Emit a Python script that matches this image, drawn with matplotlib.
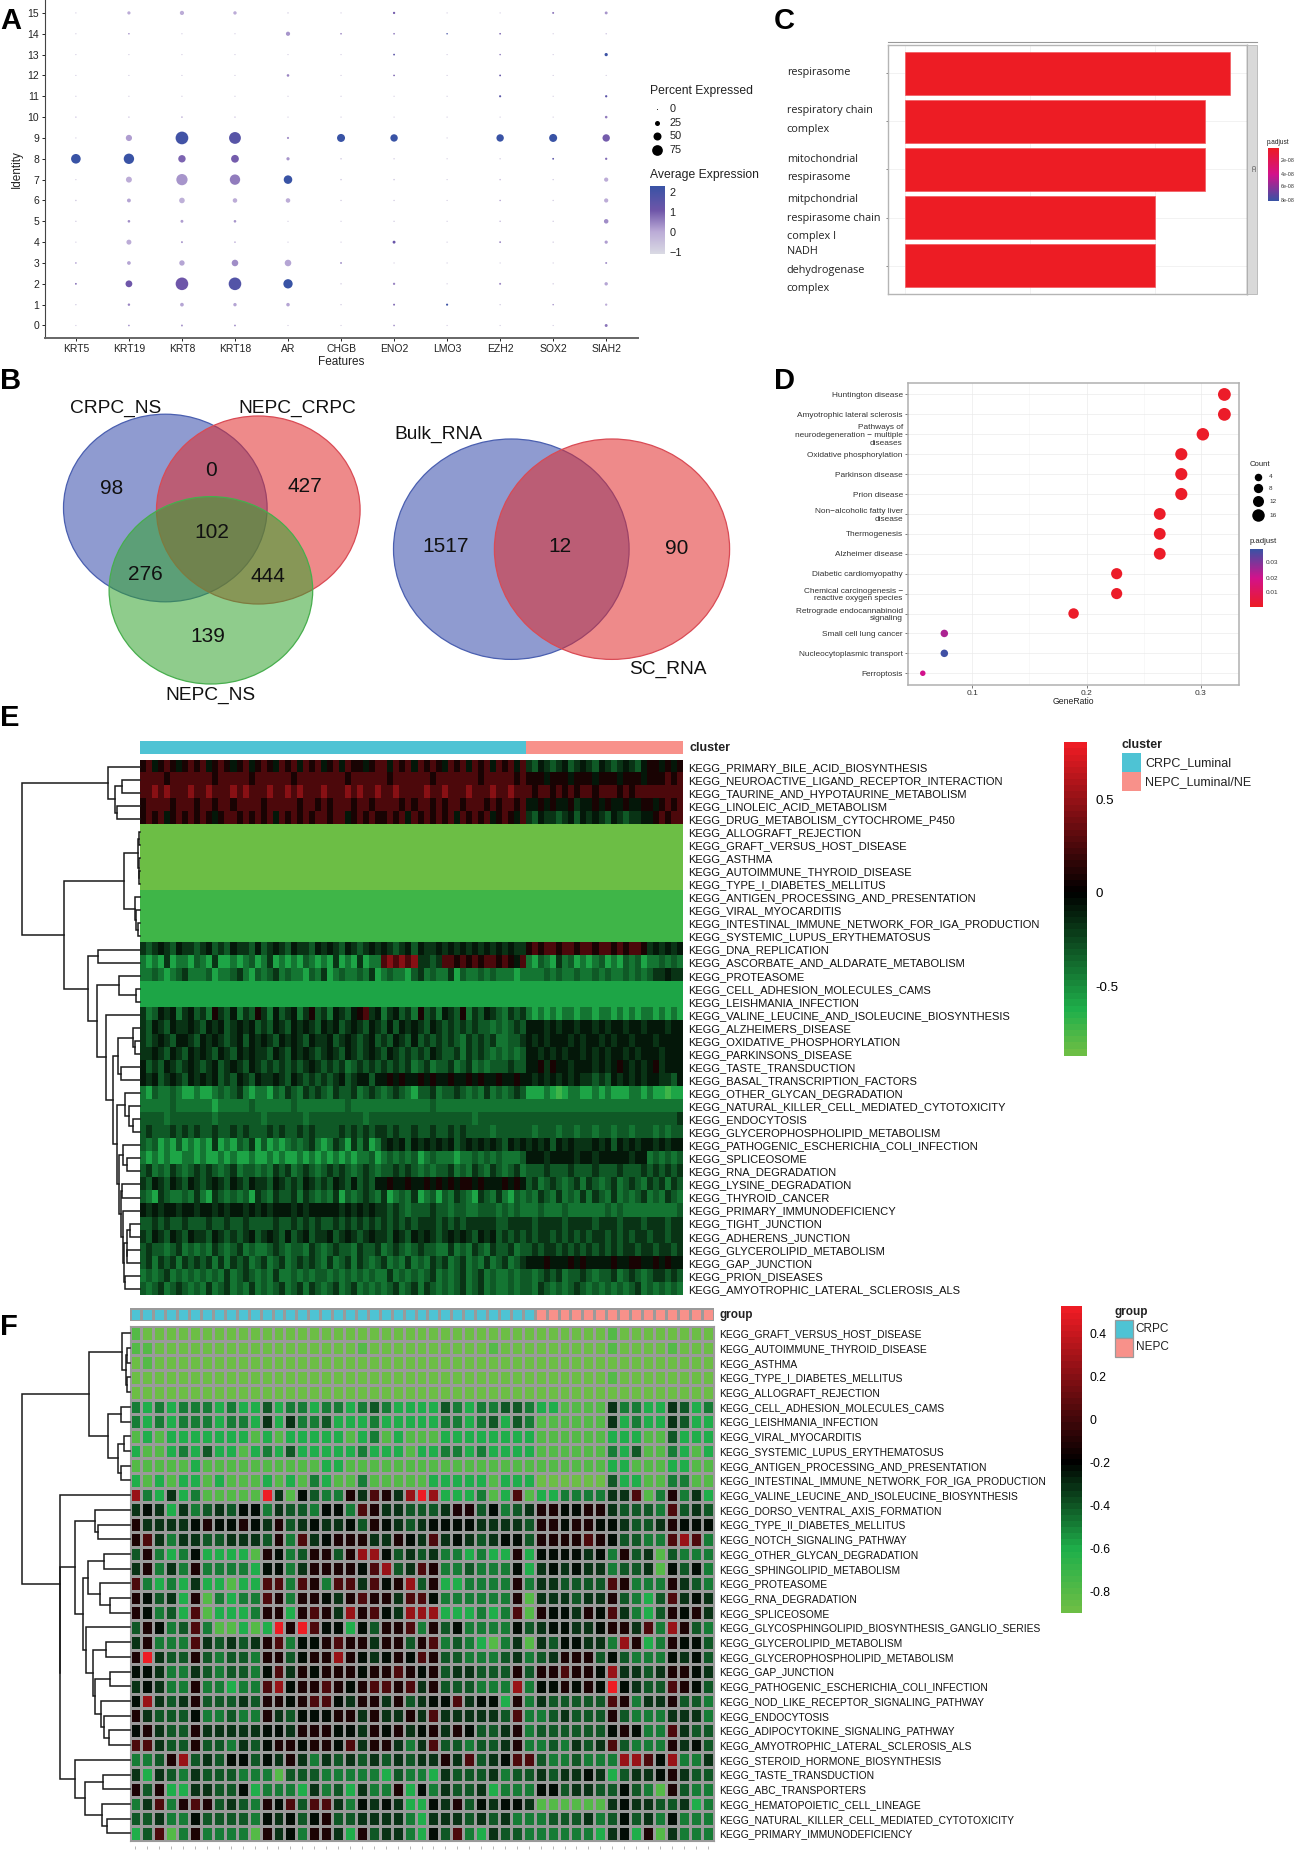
import matplotlib
matplotlib.use('Agg')
import matplotlib.pyplot as plt
from matplotlib.colors import LinearSegmentedColormap, ListedColormap
from matplotlib.patches import Ellipse, Rectangle
import numpy as np

plt.rcParams['font.family'] = ['Liberation Sans', 'DejaVu Sans']

W, H = 1296, 1850

# panel A
FEATURES = ['KRT5', 'KRT19', 'KRT8', 'KRT18', 'AR', 'CHGB', 'ENO2', 'LMO3', 'EZH2', 'SOX2', 'SIAH2']
IDENTITIES = list(range(16))
PCT = [
    [1, 4, 6, 5, 1, 1, 4, 1, 1, 1, 12],
    [2, 9, 17, 15, 16, 2, 6, 7, 2, 3, 8],
    [5, 40, 92, 92, 62, 2, 8, 1, 6, 2, 15],
    [4, 17, 28, 38, 38, 4, 1, 1, 1, 1, 6],
    [1, 25, 6, 3, 1, 1, 12, 1, 5, 2, 14],
    [2, 10, 12, 10, 1, 1, 2, 1, 3, 2, 22],
    [3, 18, 30, 22, 22, 2, 2, 1, 3, 2, 20],
    [1, 33, 80, 72, 55, 3, 3, 1, 3, 2, 20],
    [65, 72, 45, 48, 14, 3, 2, 1, 2, 5, 8],
    [1, 35, 93, 85, 7, 50, 45, 1, 45, 50, 45],
    [2, 2, 4, 2, 1, 1, 1, 1, 1, 1, 10],
    [1, 1, 1, 1, 1, 1, 1, 1, 7, 1, 8],
    [1, 1, 1, 1, 10, 1, 4, 1, 5, 1, 1],
    [1, 1, 1, 1, 1, 1, 5, 1, 3, 1, 14],
    [1, 3, 1, 1, 20, 4, 4, 3, 4, 1, 2],
    [1, 14, 20, 15, 2, 1, 8, 1, 1, 6, 12],
]
AVG = [
    [-.6, .4, .3, .4, -.6, -.6, .4, -.6, -.6, -.6, .7],
    [-.6, .5, .1, .1, .1, -.6, .8, 2.2, -.6, .4, 0],
    [.8, 1.1, 1.1, 1.7, 2.3, -.6, .5, -.6, .5, -.6, .1],
    [.2, .1, .1, .4, .1, .8, -.6, -.6, -.6, -.6, .4],
    [-.6, 0, .3, .2, -.6, -.6, 1.2, -.6, .5, -.6, .2],
    [-.6, .4, .2, .3, -.6, -.6, -.6, -.6, -.3, -.6, .4],
    [-.6, .1, -.1, 0, 0, -.6, -.6, -.6, .2, -.6, 0],
    [-.6, 0, .3, .6, 2.3, -.6, -.6, -.6, -.3, -.6, 0],
    [2.3, 2.3, .9, 1.0, .3, -.6, -.6, -.6, -.6, 1.5, .8],
    [-.6, .2, 2.1, 1.6, .4, 2.3, 2.3, -.6, 2.3, 2.3, 1.0],
    [-.3, -.3, -.1, -.3, -.6, -.6, -.6, -.6, -.6, -.6, .6],
    [-.6, -.6, -.6, -.6, -.6, -.6, -.6, -.6, 1.6, -.6, 1.5],
    [-.6, -.6, -.6, -.6, .5, -.6, 1, -.6, 1.3, -.6, -.6],
    [-.6, -.6, -.6, -.6, -.6, -.6, 1.5, -.6, .8, -.6, 2.2],
    [-.6, .5, -.6, -.6, .3, .5, .7, 2, 1, -.6, -.3],
    [-.6, 0, 0, 0, -.6, -.6, 1, -.6, -.6, .7, .3],
]

# panel C
CC_TERMS = ['respirasome', 'respiratory chain\ncomplex', 'mitochondrial\nrespirasome',
            'mitpchondrial\nrespirasome chain\ncomplex I', 'NADH\ndehydrogenase\ncomplex']
CC_COUNTS = [13, 12, 12, 10, 10]
CC_TICKS = ['2e-08', '4e-08', '6e-08', '8e-08']

# panel D
KEGG_TERMS = ['Huntington disease', 'Amyotrophic lateral sclerosis',
              'Pathways of\nneurodegeneration \u2212 multiple\ndiseases',
              'Oxidative phosphorylation', 'Parkinson disease', 'Prion disease',
              'Non\u2212alcoholic fatty liver\ndisease', 'Thermogenesis', 'Alzheimer disease',
              'Diabetic cardiomyopathy', 'Chemical carcinogenesis \u2212\nreactive oxygen species',
              'Retrograde endocannabinoid\nsignaling', 'Small cell lung cancer',
              'Nucleocytoplasmic transport', 'Ferroptosis']
GENE_COUNT = [17, 17, 16, 15, 15, 15, 14, 14, 14, 12, 12, 10, 4, 4, 3]
GENE_TOTAL = 53
PADJ = [.001, .001, .001, .001, .001, .001, .001, .001, .001, .001, .001, .001, .025, .039, .02]

# panel B
VENN3 = {'98': (112, 488), '0': (211, 471), '427': (305, 487), '102': (212, 533),
         '276': (145, 575), '444': (268, 577), '139': (207.5, 637)}
VENN2 = {'1517': (446, 547), '12': (560, 547), '90': (677, 548)}

# panel E, one digit per column block, see E_LEVELS
E_LEVELS = [-.86, -.72, -.6, -.43, -.31, -.2, -.08, .1, .24, .45]
E_LABELS = ['PRIMARY_BILE_ACID_BIOSYNTHESIS', 'NEUROACTIVE_LIGAND_RECEPTOR_INTERACTION',
            'TAURINE_AND_HYPOTAURINE_METABOLISM', 'LINOLEIC_ACID_METABOLISM',
            'DRUG_METABOLISM_CYTOCHROME_P450', 'ALLOGRAFT_REJECTION', 'GRAFT_VERSUS_HOST_DISEASE',
            'ASTHMA', 'AUTOIMMUNE_THYROID_DISEASE', 'TYPE_I_DIABETES_MELLITUS',
            'ANTIGEN_PROCESSING_AND_PRESENTATION', 'VIRAL_MYOCARDITIS',
            'INTESTINAL_IMMUNE_NETWORK_FOR_IGA_PRODUCTION', 'SYSTEMIC_LUPUS_ERYTHEMATOSUS',
            'DNA_REPLICATION', 'ASCORBATE_AND_ALDARATE_METABOLISM', 'PROTEASOME',
            'CELL_ADHESION_MOLECULES_CAMS', 'LEISHMANIA_INFECTION',
            'VALINE_LEUCINE_AND_ISOLEUCINE_BIOSYNTHESIS', 'ALZHEIMERS_DISEASE',
            'OXIDATIVE_PHOSPHORYLATION', 'PARKINSONS_DISEASE', 'TASTE_TRANSDUCTION',
            'BASAL_TRANSCRIPTION_FACTORS', 'OTHER_GLYCAN_DEGRADATION',
            'NATURAL_KILLER_CELL_MEDIATED_CYTOTOXICITY', 'ENDOCYTOSIS',
            'GLYCEROPHOSPHOLIPID_METABOLISM', 'PATHOGENIC_ESCHERICHIA_COLI_INFECTION', 'SPLICEOSOME',
            'RNA_DEGRADATION', 'LYSINE_DEGRADATION', 'THYROID_CANCER', 'PRIMARY_IMMUNODEFICIENCY',
            'TIGHT_JUNCTION', 'ADHERENS_JUNCTION', 'GLYCEROLIPID_METABOLISM', 'GAP_JUNCTION',
            'PRION_DISEASES', 'AMYOTROPHIC_LATERAL_SCLEROSIS_ALS']
E_ROWS = [
    "7867876787 8678767867 8768786878 6786877678 8687868787 6878687868 7868 5465456456 5465456546 776767",
    "8888788888 8878888878 8888878888 8888788888 8788888878 8888887888 8878 7776777677 7677767776 777878",
    "8898988898 8988898988 8988989888 9888989889 8898888988 9888988898 8988 8788787878 8788878788 888888",
    "7888878887 8878878888 7888887887 8788878878 8887878878 7887888787 8878 6676766756 6767667667 767878",
    "7878678787 8767887878 7868787878 8788678787 7878687878 7868787867 8768 5465545646 5654654556 678788",
    "0000000000 0000000000 0000000000 0000000000 0000000000 0000000000 0000 0000000000 0000000000 000000",
    "0000000000 0000000000 0000000000 0000000000 0000000000 0000000000 0000 0000000000 0000000000 000000",
    "0000000000 0000000000 0000000000 0000000000 0000000000 0000000000 0000 0000000000 0000000000 000000",
    "0000000000 0000000000 0000000000 0000000000 0000000000 0000000000 0000 0000000000 0000000000 000000",
    "0000000000 0000000000 0000000000 0000000000 0000000000 0000000000 0000 0000000000 0000000000 000000",
    "1111111111 1111111111 1111111111 1111111111 1111111111 1111111111 1111 1111111111 1111111111 111111",
    "1111111111 1111111111 1111111111 1111111111 1111111111 1111111111 1111 1111111111 1111111111 111111",
    "1111111111 1111111111 1111111111 1111111111 1111111111 1111111111 1111 1111111111 1111111111 111111",
    "1111111111 1111111111 1111111111 1111111111 1111111111 1111111111 1111 1111111111 1111111111 111111",
    "5456546554 5645465546 4565465546 5654654565 6545646556 5656565656 5655 7878878878 8788787887 565656",
    "3232523324 3252232342 3523232432 3252325233 8989895545 8878787887 8768 3243253423 2342324342 334343",
    "3343234533 3423345324 3453433243 5234334352 3433245343 3524334343 3323 3334343343 3434334343 455655",
    "2222222222 2222222222 2222222222 2222222222 2222222222 2222222222 2222 2222222222 2222222222 222222",
    "2222222222 2222222222 2222222222 2222222222 2222222222 2222222222 2222 2222222222 2222222222 222222",
    "5346563564 5375463547 5364563574 5365467856 3564537453 6547354654 3545 3232323323 3233232323 323232",
    "5465465565 4656456564 5465465654 6564565465 4646565465 4545454434 3454 6665656656 6565665665 666566",
    "5456546654 6565456465 6546565465 5645654564 5465464545 4543545453 3445 6565666565 6656566566 656666",
    "5565465465 6546546565 5465465654 5654654565 4654545465 4453545434 3434 6656565665 6565665656 665666",
    "6454654565 4564565465 4545454565 4545345454 5454534534 4534534344 4544 6675766566 6565676565 675666",
    "6564565465 6564546546 5565465454 5456456646 6767667676 6766767667 6676 6565656565 5454656565 665546",
    "3243343223 2234345323 3243543545 4354453454 3454324453 4454343534 3454 2223212332 2323222332 322122",
    "3333343333 3323333343 3333343333 3333433333 3333333343 3333333333 3333 3333333333 3333333333 333333",
    "4444344444 4434444444 3444444344 4444444344 4444444444 4444434444 4444 4444444444 4444444444 444445",
    "4544454545 4454454544 4545445454 4445454545 5454454454 4545444434 4444 4344434434 4344344344 434344",
    "4342324232 3252324352 4232343453 2354253523 5656465656 5645656565 4656 5656465655 5656465656 656566",
    "3232322332 3223232232 2323223232 3232323342 3434342343 3323343434 3334 6665666656 6566666566 343434",
    "4534354345 4543453443 4354534543 4545434543 4454543434 4534354354 3453 4445444544 4544454445 454545",
    "5465465465 4565465465 5465454654 5465464546 6766766767 6767767666 7676 4534543453 5434534543 545354",
    "4325433435 3254343425 4354453543 4352434543 5234352342 4354325435 3243 4354353435 3543534345 343543",
    "6565665665 6656566565 6566656566 6665656565 5454344454 4344334443 4343 3343334333 3334343333 333334",
    "4454544544 4544544544 4454454545 4454545454 5454545554 5454555554 4555 5455554555 5455545554 555455",
    "5465465465 5465454564 5654645645 5645654565 5465465654 5656546564 5454 5455454545 4554545455 455455",
    "4544345343 4354345343 3454344354 3454435445 3454345443 3534354354 4534 4545545454 5454545545 545545",
    "4535453545 4535354534 5345345454 3534535434 5343534354 5345343534 5345 6667666767 6666766776 676766",
    "3434534343 4343534543 4353343434 4343434343 3534343453 4345345343 3434 4345453445 4344534543 455454",
    "4345345434 3534534353 4345345354 3453453434 3453453543 4345345343 3434 4354343454 3434343453 434343",
]
E_GROUP_SIZES = [64, 26]
E_TREE = (118,
          (32, 0, (25, (18, 1, 2), (23, 3, 4))),
          (76,
           (16, (1.8, (1.2, 5, 6), (1.2, 7, (.8, 8, 9))), (5.4, 10, (4.5, 11, (2.7, 12, 13)))),
           (52.5,
            (42, 14, 15),
            (43,
             (21, 16, (4.2, 17, 18)),
             (34, 19,
              (27,
               (22, (7.3, 20, (5.5, 21, 22)), (19.5, 23, 24)),
               (23,
                (15, 25, (11.5, 26, (7.5, 27, 28))),
                (21,
                 (17.4, 29, (13, 30, 31)),
                 (19.5, (18.7, 32, 33), (17.5, 34, (16, (13.5, (10.7, 35, 36), (13, 37, 38)), (15, 39, 40))))))))))))

# panel F, one hex digit per sample, see F_LEVELS
F_LEVELS = [-.88, -.81, -.6, -.48, -.39, -.31, -.23, -.12, .03, .25, .52]
F_LABELS = ['GRAFT_VERSUS_HOST_DISEASE', 'AUTOIMMUNE_THYROID_DISEASE', 'ASTHMA', 'TYPE_I_DIABETES_MELLITUS',
            'ALLOGRAFT_REJECTION', 'CELL_ADHESION_MOLECULES_CAMS', 'LEISHMANIA_INFECTION', 'VIRAL_MYOCARDITIS',
            'SYSTEMIC_LUPUS_ERYTHEMATOSUS', 'ANTIGEN_PROCESSING_AND_PRESENTATION',
            'INTESTINAL_IMMUNE_NETWORK_FOR_IGA_PRODUCTION', 'VALINE_LEUCINE_AND_ISOLEUCINE_BIOSYNTHESIS',
            'DORSO_VENTRAL_AXIS_FORMATION', 'TYPE_II_DIABETES_MELLITUS', 'NOTCH_SIGNALING_PATHWAY',
            'OTHER_GLYCAN_DEGRADATION', 'SPHINGOLIPID_METABOLISM', 'PROTEASOME', 'RNA_DEGRADATION', 'SPLICEOSOME',
            'GLYCOSPHINGOLIPID_BIOSYNTHESIS_GANGLIO_SERIES', 'GLYCEROLIPID_METABOLISM',
            'GLYCEROPHOSPHOLIPID_METABOLISM', 'GAP_JUNCTION', 'PATHOGENIC_ESCHERICHIA_COLI_INFECTION',
            'NOD_LIKE_RECEPTOR_SIGNALING_PATHWAY', 'ENDOCYTOSIS', 'ADIPOCYTOKINE_SIGNALING_PATHWAY',
            'AMYOTROPHIC_LATERAL_SCLEROSIS_ALS', 'STEROID_HORMONE_BIOSYNTHESIS', 'TASTE_TRANSDUCTION',
            'ABC_TRANSPORTERS', 'HEMATOPOIETIC_CELL_LINEAGE', 'NATURAL_KILLER_CELL_MEDIATED_CYTOTOXICITY',
            'PRIMARY_IMMUNODEFICIENCY']
F_ROWS = [
    "1000000000 0000000000 0000000000 0000000000 100000000",
    "1100000000 0000000001 0000000000 1000000000 100001000",
    "0100000000 0000000000 0000000000 0000000000 000000000",
    "0000000000 0000000000 0000000000 0000000000 100000000",
    "0000000000 0000000000 0000000000 0000000000 000000000",
    "3232333232 2423323323 4322224323 3443221111 533225423",
    "3232333233 2525334222 3222223323 4243111111 523225422",
    "1212222222 1212222212 3121112222 2222111111 222114222",
    "2112324221 2324222223 2221223323 2222111111 324113212",
    "1111121111 1111112211 1111111111 1111111111 221112211",
    "2121221211 1212132113 1111122222 1222000000 422113311",
    "9325231111 1a51643375 8759a92223 1281223333 558137352",
    "5652534546 6354436638 7554445774 6345776677 544438454",
    "7555567667 6574565564 7654566665 5554776776 654457666",
    "7853554455 5473856777 5576585654 5664777787 644338983",
    "4732362222 1763477479 9645453323 2272666656 374514333",
    "5735373333 2663577776 8945873343 3362565655 344516463",
    "8323252212 2883873885 8679472233 3373554444 873337543",
    "7645271323 3873776578 7758863333 3371555455 743248565",
    "7634281222 3772787597 8659992223 2381766576 853247675",
    "4763483112 12a7a86626 4778374633 3364566556 775839743",
    "5733385454 5783667877 5774783432 1351546655 397237664",
    "7a54474344 3774677976 5676874433 3453457774 643336564",
    "6653354344 3685767776 7787674554 4474778776 955457765",
    "5653373323 3896778767 8878574443 3393667676 a65448764",
    "6954574445 4776788657 7574566856 6273544444 873557443",
    "7544463343 3754666775 7557585555 5483345444 743335553",
    "6754475555 5665777665 7675675764 4573444444 676338544",
    "8854474435 4677677685 7753584434 4573343545 843337564",
    "3347945466 4657535454 5454557584 5688433433 399869335",
    "5254354443 3314443333 3243325444 5344545565 245567544",
    "7472255446 2333253425 3372635445 2333664554 464317433",
    "3583787454 3768488536 5652265746 5665111111 565544523",
    "4453364444 3656467445 5553255545 4533344453 464536333",
    "2481373333 1756377527 4553264832 5443333332 562715333",
]
F_GROUP_SIZES = [34, 15]
F_TREE = (107.5,
          (41,
           (7.3, 0, (4, (3, 1, 2), (3, 3, 4))),
           (22, (9, 5, 6), (12, (6, 7, 8), (9, 9, 10)))),
          (70, 11,
           (69.5,
            (54.6,
             (35, 12, (31.7, 13, 14)),
             (47,
              (41.8, (25.7, 15, 16), (30, 17, (20, 18, 19))),
              (44, 20,
               (37,
                (24, 21, 22),
                (35, (20, 23, 24), (29, 25, (25.7, 26, (21, 27, 28))))))))
            ,
            (54.6, 29, (45, (27, 30, 31), (28, 32, (22.5, 33, 34)))))))

TEAL = '#4EC3D4'
SALMON = '#F8918A'
RED = '#ED1C24'


def px_axes(fig, x0, y0, x1, y1, **kw):
    return fig.add_axes([x0 / W, 1 - y1 / H, (x1 - x0) / W, (y1 - y0) / H], **kw)


def decode(rows, levels):
    rows = [r.replace(' ', '') for r in rows]
    assert len(set(len(r) for r in rows)) == 1, [len(r) for r in rows]
    return np.array([[levels[int(c, 16)] for c in r] for r in rows])


def draw_tree(ax, node, lw=1.1):
    if isinstance(node, int):
        return node + 0.5, 0
    h, left, right = node
    y1, h1 = draw_tree(ax, left, lw)
    y2, h2 = draw_tree(ax, right, lw)
    ax.plot([h1, h, h, h2], [y1, y1, y2, y2], color='#1a1a1a', lw=lw, clip_on=False, solid_joinstyle='miter')
    return (y1 + y2) / 2, h


def colorbar(fig, x0, y0, x1, y1, cmap, vmin, vmax, ticks, fs, pad):
    ax = px_axes(fig, x0, y0, x1, y1)
    ax.imshow(np.linspace(vmax, vmin, 256)[:, None], aspect='auto', cmap=cmap, vmin=vmin, vmax=vmax,
              extent=[0, 1, vmin, vmax], interpolation='nearest')
    ax.set_xticks([])
    ax.yaxis.tick_right()
    ax.set_yticks(ticks, [str(t) for t in ticks], fontsize=fs)
    ax.tick_params(axis='y', length=0, pad=pad)
    for s in ax.spines.values():
        s.set_visible(False)
    return ax


def panel_a(fig, ov):
    ax = px_axes(fig, 44.6, 0, 638, 338)
    cmap = LinearSegmentedColormap.from_list('dot', [(0, '#DADAE4'), (.33, '#BBABD7'), (.64, '#6F56A9'), (1, '#3953A5')])
    pct = np.array(PCT, float)
    avg = np.array(AVG, float)
    xs, ys = np.meshgrid(np.arange(len(FEATURES)), IDENTITIES)
    d = np.interp(pct, [0, 25, 50, 75, 100], [1, 5, 8, 10.7, 13.5]) * 0.72
    ax.scatter(xs.ravel(), ys.ravel(), s=(d ** 2).ravel(), c=avg.ravel(), cmap=cmap, vmin=-1.1, vmax=2.3, linewidths=0)
    ax.set_xlim(-0.59, 10.6)
    ax.set_ylim(-0.6, 15.62)
    ax.set_xticks(range(len(FEATURES)), FEATURES, fontsize=7.5, color='#222222')
    ax.set_yticks(IDENTITIES, IDENTITIES, fontsize=7.5, color='#222222')
    ax.tick_params(length=2, width=.6, pad=2)
    ax.spines[['top', 'right']].set_visible(False)
    ax.spines['left'].set_color('#444444')
    ax.spines['bottom'].set_color('#666666')
    ax.spines['bottom'].set_linewidth(1.4)
    ov.text(341, 362, 'Features', fontsize=8.5, ha='center', va='center', color='#222222')
    ov.text(17, 169, 'Identity', fontsize=8.5, ha='center', va='center', rotation=90, color='#222222')
    ov.text(650, 91, 'Percent Expressed', fontsize=8.7, va='center', color='#222222')
    for lab, yy, dd in zip([0, 25, 50, 75], [109, 123, 136, 150], [1, 5, 8, 10.7]):
        ov.plot([657], [yy], 'o', color='black', ms=dd * .72, mew=0)
        ov.text(670, yy, str(lab), fontsize=7.8, va='center', color='#222222')
    ov.text(650, 175, 'Average Expression', fontsize=8.7, va='center', color='#222222')
    cb = px_axes(fig, 650, 186, 664, 254)
    cb.imshow(np.linspace(2.3, -1.1, 256)[:, None], aspect='auto', cmap=cmap, vmin=-1.1, vmax=2.3, extent=[0, 1, -1.1, 2.3])
    cb.set_xticks([])
    cb.yaxis.tick_right()
    cb.set_yticks([2, 1, 0, -1], ['2', '1', '0', '\u22121'], fontsize=7.8, color='#222222')
    cb.tick_params(axis='y', length=0, pad=4)
    for s in cb.spines.values():
        s.set_visible(False)


def panel_b(ov):
    blue, red, green = (.2, .29, .67), (.88, .17, .17), (.2, .64, .18)
    edges = {'b': '#4A5FB0', 'r': '#D94B55', 'g': '#47AE4D'}
    for cx, cy, a, b, col, e in [(165.3, 508, 101.8, 93.8, blue, 'b'), (258.3, 510, 101.8, 94, red, 'r'),
                                 (210.9, 590.3, 101.8, 93.7, green, 'g'), (511.3, 549.2, 117.8, 110.2, blue, 'b'),
                                 (612, 549.2, 117.6, 110.2, red, 'r')]:
        ov.add_patch(Ellipse((cx, cy), 2 * a, 2 * b, fc=col + (.55,), ec='none'))
        ov.add_patch(Ellipse((cx, cy), 2 * a, 2 * b, fc='none', ec=edges[e], lw=.9))
    for txt, (x, y) in list(VENN3.items()) + list(VENN2.items()):
        ov.text(x, y, txt, fontsize=15, ha='center', va='center', color='#111111')
    for txt, x, y in [('CRPC_NS', 116, 408), ('NEPC_CRPC', 297, 408), ('NEPC_NS', 210, 695),
                      ('Bulk_RNA', 438, 434), ('SC_RNA', 668, 669)]:
        ov.text(x, y, txt, fontsize=13.8, ha='center', va='center', color='#111111')


def panel_c(fig, ov):
    ax = px_axes(fig, 888, 45, 1246.5, 294)
    ypos = np.arange(len(CC_COUNTS))
    ax.barh(ypos, CC_COUNTS, height=.9, color=RED, ec='#F25A60', lw=.5, zorder=3)
    ax.set_xlim(-.68, 13.66)
    ax.set_ylim(len(CC_COUNTS) - .41, -.59)
    ax.grid(color='#F0F0F0', lw=.6)
    ax.set_axisbelow(True)
    ax.set_xticks([0, 5, 10])
    ax.set_yticks(ypos)
    ax.tick_params(axis='x', length=0, labelbottom=False)
    ax.tick_params(axis='y', length=1.5, width=.5, color='#555555', labelleft=False)
    for s in ax.spines.values():
        s.set_color('#B5B5B5')
        s.set_linewidth(1)
    ax.spines['right'].set_color('#555555')
    for term, yy in zip(CC_TERMS, [73, 120, 168.5, 218, 270]):
        ov.text(786.7, yy, term, family='Open Sans', fontsize=7.8, va='center', color='#222222', linespacing=1.9)
    ov.add_patch(Rectangle((1246.5, 45), 10.9, 249, fc='#D9D9D9', ec='#B5B5B5', lw=.6))
    ov.plot([888, 1257.4], [41.5, 41.5], color='#999999', lw=.8)
    ov.text(1251.8, 169, 'CC', fontsize=3.6, rotation=-90, ha='center', va='center', color='#333333')
    ov.text(1267, 142, 'p.adjust', fontsize=4.7, va='center', color='#222222')
    cmap = LinearSegmentedColormap.from_list('pa', [RED, '#D3128C', '#3953A5'])
    cb = px_axes(fig, 1267.7, 148, 1278, 201)
    cb.imshow(np.linspace(0, 1, 128)[:, None], aspect='auto', cmap=cmap)
    cb.axis('off')
    for lab, yy in zip(CC_TICKS, [161, 174.7, 187, 200]):
        ov.text(1281, yy, lab, fontsize=3.9, va='center', color='#333333')


def panel_d(fig, ov):
    ax = px_axes(fig, 907.7, 382.7, 1238.6, 685)
    ypos = np.arange(len(KEGG_TERMS))
    cmap = LinearSegmentedColormap.from_list('pa', [RED, '#D3128C', '#3953A5'])
    ratio = np.array(GENE_COUNT) / GENE_TOTAL
    d = np.interp(GENE_COUNT, [3, 4, 10, 17], [5.5, 7.5, 10.5, 12.8]) * .72
    ax.scatter(ratio, ypos, s=d ** 2, c=PADJ, cmap=cmap, vmin=0, vmax=.04, linewidths=0, zorder=3)
    ax.set_xlim(.0434, .3332)
    ax.set_ylim(len(KEGG_TERMS) - .41, -.59)
    ax.set_xticks([.1, .2, .3], ['0.1', '0.2', '0.3'], fontsize=6, color='#333333')
    ax.set_xticks([.15, .25], minor=True)
    ax.set_yticks(ypos, KEGG_TERMS, fontsize=5.95, color='#333333', linespacing=1.15)
    ax.grid(color='#EBEBEB', lw=.5)
    ax.grid(which='minor', color='#F4F4F4', lw=.4)
    ax.set_axisbelow(True)
    ax.tick_params(length=2, width=.5, color='#444444', pad=1.5)
    ax.tick_params(which='minor', length=0)
    for s in ax.spines.values():
        s.set_color('#B0B0B0')
        s.set_linewidth(1.1)
    ov.text(1073.5, 701, 'GeneRatio', fontsize=6.2, ha='center', va='center', color='#222222')
    ov.text(1250, 464, 'Count', fontsize=5.6, va='center', color='#222222')
    for lab, yy, dd in zip([4, 8, 12, 16], [476.7, 488.3, 501.3, 515.3], [7.5, 9.3, 11, 12.5]):
        ov.plot([1257.8], [yy], 'o', color='black', ms=dd * .72, mew=0)
        ov.text(1269, yy, str(lab), fontsize=4.6, va='center', color='#333333')
    ov.text(1250, 541.7, 'p.adjust', fontsize=5.6, va='center', color='#222222')
    cb = px_axes(fig, 1250, 549, 1262.5, 607)
    cb.imshow(np.linspace(.04, 0, 128)[:, None], aspect='auto', cmap=cmap, vmin=0, vmax=.04)
    cb.axis('off')
    for lab, yy in zip(['0.03', '0.02', '0.01'], [563, 578, 592.7]):
        ov.text(1266, yy, lab, fontsize=4.6, va='center', color='#333333')


def panel_e(fig, ov):
    cmap = LinearSegmentedColormap.from_list('e', [(0, '#6CBE45'), (.14, '#1FB04B'), (.519, '#000000'), (1, RED)], N=50)
    vals = decode(E_ROWS, E_LEVELS)
    ax = px_axes(fig, 140.2, 760.3, 683, 1295.4)
    ax.imshow(vals, aspect='auto', cmap=cmap, vmin=-.876, vmax=.813, interpolation='nearest')
    ax.set_xticks([])
    ax.yaxis.tick_right()
    ax.set_yticks(range(len(E_LABELS)), ['KEGG_' + s for s in E_LABELS], fontsize=8.05, color='#111111')
    ax.tick_params(axis='y', length=0, pad=4)
    for t in ax.get_yticklabels():
        t.set_verticalalignment('center_baseline')
    for s in ax.spines.values():
        s.set_visible(False)
    ann = px_axes(fig, 140.2, 741.3, 683, 754)
    ann.imshow(np.repeat([0, 1], E_GROUP_SIZES)[None, :], aspect='auto', cmap=ListedColormap([TEAL, SALMON]), interpolation='nearest')
    ann.axis('off')
    dn = px_axes(fig, 22.3, 760.3, 140.2, 1295.4)
    dn.set_xlim(118, 0)
    dn.set_ylim(len(E_LABELS), 0)
    dn.axis('off')
    draw_tree(dn, E_TREE)
    ov.text(689.4, 748, 'cluster', fontsize=9, weight='bold', va='center', color='#222222')
    colorbar(fig, 1063.5, 741.7, 1086, 1056, cmap, -.876, .813, [.5, 0, -.5], 9.6, 6.5)
    ov.text(1121.6, 745, 'cluster', fontsize=9, weight='bold', va='center', color='#222222')
    for i, (col, lab) in enumerate(zip([TEAL, SALMON], ['CRPC_Luminal', 'NEPC_Luminal/NE'])):
        ov.add_patch(Rectangle((1121.6, 753 + 19 * i), 19.4, 19, fc=col, ec='none'))
        ov.text(1145, 763 + 19 * i, lab, fontsize=9, va='center', color='#222222')


def panel_f(fig, ov):
    cmap = LinearSegmentedColormap.from_list('f', [(0, '#6CBE45'), (.2, '#1FB04B'), (.49, '#000000'), (1, RED)], N=50)
    vals = decode(F_ROWS, F_LEVELS)
    ax = px_axes(fig, 129.5, 1326, 713.5, 1840.7)
    ax.pcolormesh(vals, cmap=cmap, vmin=-.9, vmax=.529, edgecolors='#9A9A9A', linewidth=.75)
    ax.set_ylim(len(F_LABELS), 0)
    ax.set_xticks([])
    ax.yaxis.tick_right()
    ax.set_yticks(np.arange(len(F_LABELS)) + .5, ['KEGG_' + s for s in F_LABELS], fontsize=7.35, color='#111111')
    ax.tick_params(axis='y', length=0, pad=4)
    for t in ax.get_yticklabels():
        t.set_verticalalignment('center_baseline')
    for s in ax.spines.values():
        s.set_color('#9A9A9A')
    ax.vlines(np.arange(vals.shape[1]) + .5, -.017, -.01, transform=ax.get_xaxis_transform(), color='#AAAAAA', lw=.6, clip_on=False)
    ann = px_axes(fig, 129.5, 1308, 713.5, 1320.7)
    ann.pcolormesh(np.repeat([0, 1], F_GROUP_SIZES)[None, :], cmap=ListedColormap([TEAL, SALMON]), edgecolors='#9A9A9A', linewidth=.75)
    ann.axis('off')
    dn = px_axes(fig, 22, 1326, 129.5, 1840.7)
    dn.set_xlim(107.5, 0)
    dn.set_ylim(len(F_LABELS), 0)
    dn.axis('off')
    draw_tree(dn, F_TREE)
    ov.text(719.8, 1315, 'group', fontsize=8.5, weight='bold', va='center', color='#222222')
    colorbar(fig, 1061, 1306, 1081.4, 1613, cmap, -.9, .529, [.4, .2, 0, -.2, -.4, -.6, -.8], 8.7, 6)
    ov.text(1114.5, 1311.7, 'group', fontsize=8.5, weight='bold', va='center', color='#222222')
    for i, (col, lab) in enumerate(zip([TEAL, SALMON], ['CRPC', 'NEPC'])):
        ov.add_patch(Rectangle((1114.5, 1320 + 18.3 * i), 18.3, 18.3, fc=col, ec='#9A9A9A', lw=.9))
        ov.text(1135.7, 1329 + 18.5 * i, lab, fontsize=8.5, va='center', color='#222222')


fig = plt.figure(figsize=(W / 100, H / 100), dpi=100)
ov = fig.add_axes([0, 0, 1, 1], zorder=5)
ov.set_xlim(0, W)
ov.set_ylim(H, 0)
ov.axis('off')

panel_a(fig, ov)
panel_b(ov)
panel_c(fig, ov)
panel_d(fig, ov)
panel_e(fig, ov)
panel_f(fig, ov)

for lab, x, y in [('A', 0, 21), ('B', 0, 381), ('C', 774, 21), ('D', 774, 381), ('E', 0, 718), ('F', 0, 1327)]:
    ov.text(x, y, lab, fontsize=21, weight='bold', va='center', color='black')

fig.savefig('out.png', dpi=100)
